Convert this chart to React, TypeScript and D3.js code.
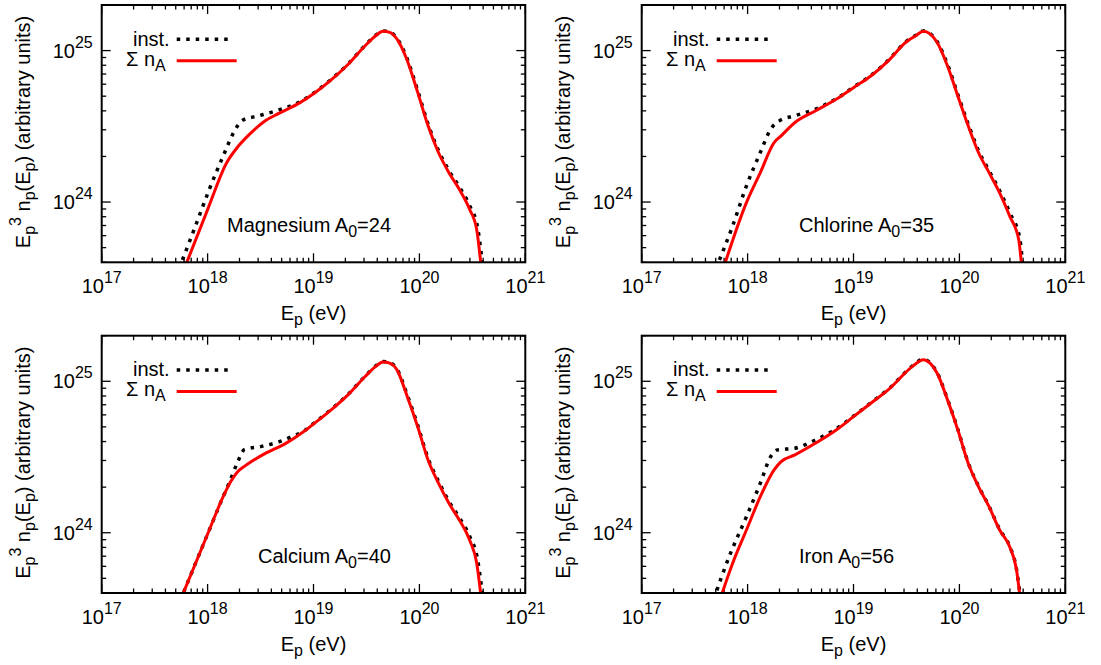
import React from "react";
import * as d3 from "d3";

// ---------- DATA (log10 E_p [eV], log10 E^3 n_p) ----------
const xTickExps = [17, 18, 19, 20, 21];
const yTickExps = [24, 25];
const legendLabels = ["inst.", "Σ n"];

const mgSum: [number, number][] = [
  [17.78, 23.56], [18.0, 23.95], [18.18, 24.26], [18.28, 24.36], [18.4, 24.45],
  [18.541, 24.535], [18.672, 24.585], [18.869, 24.655], [19.0, 24.715], [19.164, 24.805],
  [19.328, 24.91], [19.492, 25.035], [19.59, 25.1], [19.656, 25.128], [19.72, 25.12],
  [19.787, 25.077], [19.885, 24.935], [19.984, 24.724], [20.082, 24.503], [20.18, 24.327],
  [20.279, 24.194], [20.377, 24.084], [20.475, 23.951], [20.541, 23.819], [20.585, 23.56],
];
const mgInst: [number, number][] = [
  [17.73, 23.56], [17.885, 23.841], [18.016, 24.084], [18.148, 24.305], [18.246, 24.459],
  [18.33, 24.54], [18.475, 24.568], [18.672, 24.608], [18.869, 24.66], [19.0, 24.718],
  [19.164, 24.808], [19.328, 24.913], [19.492, 25.038], [19.59, 25.103], [19.656, 25.13],
  [19.72, 25.123], [19.787, 25.082], [19.885, 24.945], [19.984, 24.735], [20.082, 24.515],
  [20.18, 24.34], [20.279, 24.207], [20.377, 24.1], [20.475, 23.975], [20.55, 23.83], [20.6, 23.56],
];
const clSum: [number, number][] = [
  [17.77, 23.56], [17.989, 23.996], [18.12, 24.194], [18.25, 24.393], [18.316, 24.437],
  [18.447, 24.525], [18.643, 24.603], [18.84, 24.68], [19.003, 24.757], [19.167, 24.834],
  [19.33, 24.934], [19.494, 25.055], [19.592, 25.1], [19.658, 25.128], [19.723, 25.11],
  [19.789, 25.055], [19.887, 24.9], [19.985, 24.7], [20.083, 24.503], [20.18, 24.327],
  [20.28, 24.194], [20.38, 24.06], [20.475, 23.907], [20.56, 23.753], [20.59, 23.56],
];
const clInst: [number, number][] = [
  [17.7, 23.56], [17.858, 23.841], [17.989, 24.106], [18.12, 24.327], [18.218, 24.481],
  [18.3, 24.536], [18.447, 24.57], [18.643, 24.614], [18.774, 24.658], [18.84, 24.683],
  [19.003, 24.76], [19.167, 24.837], [19.33, 24.937], [19.494, 25.058], [19.592, 25.103],
  [19.658, 25.13], [19.723, 25.113], [19.789, 25.06], [19.887, 24.91], [19.985, 24.71],
  [20.083, 24.515], [20.18, 24.34], [20.28, 24.207], [20.38, 24.075], [20.475, 23.93],
  [20.57, 23.76], [20.6, 23.56],
];
const caSum: [number, number][] = [
  [17.74, 23.55], [18.016, 24.018], [18.148, 24.24], [18.22, 24.34], [18.28, 24.4],
  [18.35, 24.44], [18.41, 24.468], [18.541, 24.522], [18.738, 24.59], [18.902, 24.665],
  [19.0, 24.718], [19.164, 24.81], [19.328, 24.912], [19.49, 25.033], [19.59, 25.1],
  [19.656, 25.128], [19.72, 25.12], [19.787, 25.077], [19.885, 24.9], [19.984, 24.7],
  [20.082, 24.48], [20.18, 24.327], [20.279, 24.194], [20.377, 24.084], [20.475, 23.951],
  [20.541, 23.8], [20.585, 23.56],
];
const caInst: [number, number][] = [
  [17.74, 23.55], [18.016, 24.018], [18.148, 24.24], [18.21, 24.34], [18.279, 24.459],
  [18.35, 24.55], [18.508, 24.57], [18.672, 24.6], [18.8, 24.636], [18.902, 24.668],
  [19.0, 24.721], [19.164, 24.813], [19.328, 24.915], [19.49, 25.036], [19.59, 25.103],
  [19.656, 25.13], [19.72, 25.123], [19.787, 25.082], [19.885, 24.91], [19.984, 24.71],
  [20.082, 24.49], [20.18, 24.34], [20.279, 24.207], [20.377, 24.1], [20.475, 23.975],
  [20.55, 23.82], [20.6, 23.56],
];
const feSum: [number, number][] = [
  [17.74, 23.56], [17.858, 23.797], [17.989, 24.018], [18.12, 24.238], [18.25, 24.415],
  [18.316, 24.47], [18.447, 24.514], [18.643, 24.592], [18.84, 24.68], [19.003, 24.768],
  [19.167, 24.857], [19.33, 24.945], [19.56, 25.1], [19.658, 25.143], [19.723, 25.12],
  [19.789, 25.055], [19.887, 24.879], [19.985, 24.68], [20.083, 24.459], [20.18, 24.305],
  [20.28, 24.172], [20.38, 24.018], [20.475, 23.907], [20.54, 23.753], [20.575, 23.56],
];
const feInst: [number, number][] = [
  [17.68, 23.56], [17.825, 23.841], [17.989, 24.106], [18.12, 24.327], [18.218, 24.503],
  [18.283, 24.547], [18.447, 24.558], [18.643, 24.614], [18.8, 24.67], [19.003, 24.771],
  [19.167, 24.86], [19.33, 24.948], [19.56, 25.103], [19.658, 25.146], [19.723, 25.123],
  [19.789, 25.058], [19.887, 24.882], [19.985, 24.683], [20.083, 24.462], [20.18, 24.308],
  [20.28, 24.175], [20.38, 24.021], [20.475, 23.91], [20.54, 23.756], [20.578, 23.56],
];

const nucleusNames = ["Magnesium", "Chlorine", "Calcium", "Iron"];
const nucleusA0 = ["24", "35", "40", "56"];
const sumSeries = [mgSum, clSum, caSum, feSum];
const instSeries = [mgInst, clInst, caInst, feInst];

// ---------- LAYOUT ----------
const FONT = "'Liberation Sans', Arial, Helvetica, sans-serif";
const panelBoxes = [
  { x0: 101.7, y0: 5, labelX: 227 },
  { x0: 641.7, y0: 5, labelX: 799 },
  { x0: 101.7, y0: 335.7, labelX: 258 },
  { x0: 641.7, y0: 335.7, labelX: 799 },
];
const PW = 423.6;
const PH = 257.3;

function Panel({ idx }: { idx: number }) {
  const { x0, y0, labelX } = panelBoxes[idx];
  const x1 = x0 + PW;
  const y1 = y0 + PH;
  const x = d3.scaleLog().domain([1e17, 1e21]).range([x0, x1]);
  const y = d3.scaleLog().domain([4e23, 2e25]).range([y1, y0]);
  const line = d3
    .line<[number, number]>()
    .x((d) => x(Math.pow(10, d[0])))
    .y((d) => y(Math.pow(10, d[1])))
    .curve(d3.curveMonotoneX);

  const xMinor: number[] = [];
  for (let e = 17; e < 21; e++) for (let k = 2; k <= 9; k++) xMinor.push(k * Math.pow(10, e));
  const yMinor: number[] = [];
  for (let e = 23; e < 26; e++)
    for (let k = 2; k <= 9; k++) {
      const v = k * Math.pow(10, e);
      if (v > 4e23 && v <= 2e25) yMinor.push(v);
    }
  const MJ = 9;
  const MN = 4.5;
  const clipId = `clip${idx}`;
  const cx = (x0 + x1) / 2;

  return (
    <g>
      <defs>
        <clipPath id={clipId}>
          <rect x={x0} y={y0} width={PW} height={PH} />
        </clipPath>
      </defs>
      {/* ticks */}
      <g stroke="#000" strokeWidth={1.3}>
        {xTickExps.map((e) => {
          const px = x(Math.pow(10, e));
          return (
            <g key={"xm" + e}>
              <line x1={px} x2={px} y1={y1} y2={y1 - MJ} />
              <line x1={px} x2={px} y1={y0} y2={y0 + MJ} />
            </g>
          );
        })}
        {xMinor.map((v, i) => {
          const px = x(v);
          return (
            <g key={"xn" + i}>
              <line x1={px} x2={px} y1={y1} y2={y1 - MN} />
              <line x1={px} x2={px} y1={y0} y2={y0 + MN} />
            </g>
          );
        })}
        {yTickExps.map((e) => {
          const py = y(Math.pow(10, e));
          return (
            <g key={"ym" + e}>
              <line x1={x0} x2={x0 + MJ} y1={py} y2={py} />
              <line x1={x1} x2={x1 - MJ} y1={py} y2={py} />
            </g>
          );
        })}
        {yMinor.map((v, i) => {
          const py = y(v);
          return (
            <g key={"yn" + i}>
              <line x1={x0} x2={x0 + MN} y1={py} y2={py} />
              <line x1={x1} x2={x1 - MN} y1={py} y2={py} />
            </g>
          );
        })}
      </g>
      {/* curves */}
      <g clipPath={`url(#${clipId})`}>
        <path
          d={line(instSeries[idx]) || ""}
          fill="none"
          stroke="#000"
          strokeWidth={3.5}
          strokeDasharray="3.5 6"
        />
        <path d={line(sumSeries[idx]) || ""} fill="none" stroke="#ff0000" strokeWidth={3} strokeLinejoin="round" />
      </g>
      {/* frame */}
      <rect x={x0} y={y0} width={PW} height={PH} fill="none" stroke="#000" strokeWidth={2} />
      {/* x tick labels */}
      {xTickExps.map((e) => (
        <text key={"xl" + e} x={x(Math.pow(10, e))} y={y1 + 31} textAnchor="middle" fontSize={20} fontFamily={FONT} fill="#000">
          10<tspan dy={-10} fontSize={16}>{e}</tspan>
        </text>
      ))}
      {/* y tick labels */}
      {yTickExps.map((e) => (
        <text key={"yl" + e} x={x0 - 9} y={y(Math.pow(10, e)) + 7} textAnchor="end" fontSize={20} fontFamily={FONT} fill="#000">
          10<tspan dy={-10} fontSize={16}>{e}</tspan>
        </text>
      ))}
      {/* x label */}
      <text x={cx} y={y1 + 58} textAnchor="middle" fontSize={20} fontFamily={FONT} fill="#000">
        E<tspan dy={5} fontSize={16}>p</tspan>
        <tspan dy={-5}> (eV)</tspan>
      </text>
      {/* y label */}
      <text
        transform={`translate(${x0 - 71.7},${y0 + 127}) rotate(-90)`}
        textAnchor="middle"
        fontSize={20}
        fontFamily={FONT}
        fill="#000"
      >
        E<tspan dy={5} fontSize={16}>p</tspan>
        <tspan dy={-14} fontSize={16}>3</tspan>
        <tspan dy={9}> n</tspan>
        <tspan dy={5} fontSize={16}>p</tspan>
        <tspan dy={-5}>(E</tspan>
        <tspan dy={5} fontSize={16}>p</tspan>
        <tspan dy={-5}>) (arbitrary units)</tspan>
      </text>
      {/* legend */}
      <text x={x0 + 68} y={y0 + 40.7} textAnchor="end" fontSize={20} fontFamily={FONT} fill="#000">
        {legendLabels[0]}
      </text>
      <line x1={x0 + 75} x2={x0 + 131} y1={y0 + 34.3} y2={y0 + 34.3} stroke="#000" strokeWidth={3.5} strokeDasharray="3.5 6" />
      <text x={x0 + 64} y={y0 + 60.7} textAnchor="end" fontSize={20} fontFamily={FONT} fill="#000">
        {legendLabels[1]}
        <tspan dy={5} fontSize={16}>A</tspan>
      </text>
      <line x1={x0 + 75} x2={x0 + 135} y1={y0 + 55.7} y2={y0 + 55.7} stroke="#ff0000" strokeWidth={3} />
      {/* panel label */}
      <text x={labelX} y={y0 + 227} fontSize={20} fontFamily={FONT} fill="#000">
        {nucleusNames[idx]} A<tspan dy={5} fontSize={16}>0</tspan>
        <tspan dy={-5}>={nucleusA0[idx]}</tspan>
      </text>
    </g>
  );
}

export default function App() {
  return (
    <svg
      width={1101}
      height={665}
      viewBox="0 0 1101 665"
      style={{ position: "fixed", left: 0, top: 0, background: "#fff" }}
    >
      <rect x={0} y={0} width={1101} height={665} fill="#fff" />
      {[0, 1, 2, 3].map((i) => (
        <Panel key={i} idx={i} />
      ))}
    </svg>
  );
}
